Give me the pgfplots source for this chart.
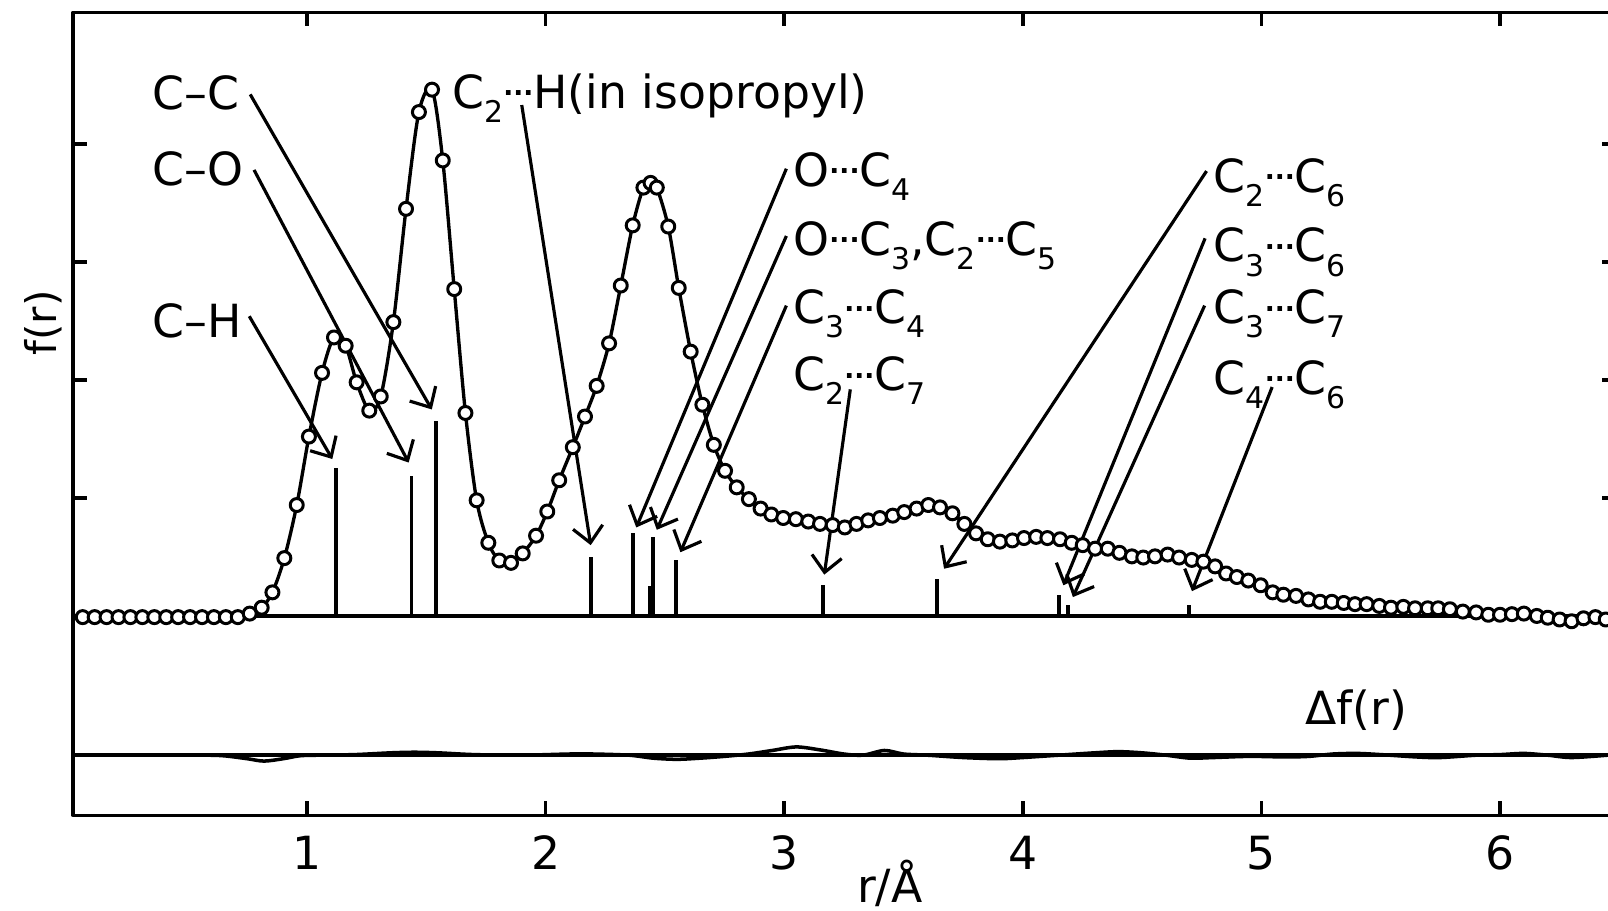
\documentclass[border=0pt]{standalone}
\usepackage{fontspec}
\setmainfont{DejaVu Sans}
\usepackage{pgfplots}
\usepackage{pgfplotstable}
\pgfplotsset{compat=1.18}
\usetikzlibrary{arrows.meta}

\newcommand\lbl{\fontsize{13}{15}\selectfont}
\newcommand\s[1]{\raisebox{-4pt}{\fontsize{8.5}{9}\selectfont #1}}
\newcommand\dt{\raisebox{3.6pt}{\fontsize{7.5}{7.5}\selectfont\bfseries...}}

% radial distribution function f(r)
\pgfplotstableread{
r     f
0.06  -0.01
0.11  -0.01
0.16  -0.01
0.21  -0.01
0.26  -0.01
0.31  -0.01
0.36  -0.01
0.41  -0.01
0.46  -0.01
0.51  -0.01
0.56  -0.01
0.61  -0.01
0.66  -0.01
0.71  -0.01
0.76  0.02
0.81  0.07
0.855 0.20
0.905 0.49
0.957 0.94
1.008 1.52
1.063 2.06
1.113 2.36
1.162 2.29
1.208 1.98
1.261 1.74
1.309 1.86
1.362 2.49
1.415 3.45
1.469 4.27
1.524 4.46
1.569 3.86
1.617 2.77
1.664 1.72
1.711 0.98
1.760 0.62
1.806 0.47
1.855 0.45
1.904 0.53
1.960 0.68
2.007 0.885
2.057 1.15
2.114 1.43
2.165 1.69
2.214 1.95
2.266 2.31
2.315 2.80
2.365 3.31
2.41  3.63
2.44  3.67
2.466 3.63
2.514 3.30
2.558 2.78
2.608 2.24
2.657 1.79
2.705 1.45
2.752 1.23
2.801 1.09
2.852 0.99
2.901 0.91
2.946 0.86
2.996 0.83
3.049 0.82
3.101 0.80
3.150 0.78
3.203 0.77
3.254 0.75
3.303 0.78
3.352 0.81
3.401 0.83
3.455 0.85
3.503 0.88
3.555 0.91
3.604 0.94
3.653 0.92
3.705 0.87
3.755 0.78
3.804 0.70
3.853 0.65
3.904 0.63
3.956 0.64
4.005 0.66
4.056 0.67
4.103 0.66
4.156 0.65
4.205 0.62
4.251 0.60
4.303 0.57
4.356 0.57
4.405 0.535
4.457 0.505
4.505 0.495
4.554 0.505
4.607 0.52
4.655 0.495
4.708 0.475
4.757 0.46
4.806 0.42
4.852 0.36
4.897 0.33
4.945 0.30
4.997 0.26
5.047 0.20
5.092 0.18
5.145 0.17
5.197 0.14
5.246 0.12
5.295 0.12
5.345 0.11
5.392 0.10
5.441 0.10
5.494 0.085
5.543 0.07
5.595 0.077
5.644 0.065
5.697 0.065
5.741 0.065
5.790 0.057
5.844 0.037
5.900 0.03
5.951 0.01
6.000 0.01
6.050 0.015
6.100 0.02
6.154 0.0
6.200 -0.015
6.250 -0.03
6.300 -0.045
6.350 -0.02
6.400 -0.01
6.443 -0.03
}\fr

% calculated interatomic distances
\pgfplotstableread{
r     h
1.12  1.25
1.438 1.19
1.54  1.65
2.192 0.50
2.368 0.70
2.437 0.25
2.451 0.67
2.546 0.47
3.161 0.26
3.642 0.31
4.153 0.18
4.188 0.09
4.695 0.09
}\sticks

% difference curve (offset below)
\pgfplotstableread{
r     d
0.02  0
0.55  0
0.65  -0.005
0.75  -0.03
0.82  -0.05
0.90  -0.03
0.97  -0.005
1.05  0
1.20  0.005
1.35  0.02
1.45  0.025
1.55  0.02
1.70  0.005
1.90  0
2.10  0.01
2.20  0.01
2.35  0
2.45  -0.025
2.55  -0.035
2.65  -0.025
2.75  -0.01
2.85  0.01
2.95  0.04
3.05  0.07
3.15  0.045
3.25  0.01
3.33  0.0
3.42  0.04
3.50  0.01
3.60  0
3.75  -0.02
3.90  -0.03
4.00  -0.02
4.15  0.0
4.30  0.02
4.40  0.03
4.50  0.02
4.60  0
4.70  -0.025
4.80  -0.02
4.95  -0.01
5.10  -0.015
5.20  -0.01
5.30  0.01
5.40  0.015
5.50  0.005
5.65  -0.015
5.75  -0.02
5.90  0
6.00  0.005
6.10  0.015
6.20  0
6.30  -0.02
6.45  0
}\dfr

\begin{document}
\begin{tikzpicture}[line cap=round, line join=round]
\begin{axis}[
  name=ax,
  x=23.86mm, y=11.8mm,
  xmin=0.02, xmax=6.486, ymin=-1.69, ymax=5.116,
  axis line style={line width=1pt},
  tick align=inside,
  major tick length=1.4mm,
  every tick/.style={black, line width=1pt},
  xtick={1,2,3,4,5,6}, xticklabels={1,2,3,4,5,6},
  ytick={1,2,3,4}, yticklabels={},
  xticklabel style={font=\lbl, anchor=base, inner sep=0pt, yshift=-5.46mm},
  clip=false,
]
% zero lines
\addplot[line width=1pt] coordinates {(0.02,0) (6.486,0)};
\addplot[line width=1pt] coordinates {(0.02,-1.18) (6.486,-1.18)};
% difference curve
\addplot[line width=1pt, smooth] table[x=r, y expr=\thisrow{d}-1.18] {\dfr};
% distance sticks
\addplot[ycomb, line width=1.1pt, no marks] table[x=r, y=h] {\sticks};
% f(r)
\addplot[line width=0.95pt, smooth, mark=*, mark size=1.85pt,
  mark options={fill=white, draw=black, line width=0.85pt}] table[x=r, y=f] {\fr};

% annotations
\begin{scope}[every node/.style={font=\lbl, inner sep=0pt, anchor=base west}]
\node at (axis cs:0.349,4.29) {C–C};
\node at (axis cs:0.349,3.65) {C–O};
\node at (axis cs:0.349,2.36) {C–H};
\node at (axis cs:1.607,4.30) {C\s{2}\dt H(in isopropyl)};
\node at (axis cs:3.036,3.64) {O\dt C\s{4}};
\node at (axis cs:3.036,3.055) {O\dt C\s{3},C\s{2}\dt C\s{5}};
\node at (axis cs:3.036,2.475) {C\s{3}\dt C\s{4}};
\node at (axis cs:3.036,1.907) {C\s{2}\dt C\s{7}};
\node at (axis cs:4.798,3.59) {C\s{2}\dt C\s{6}};
\node at (axis cs:4.798,3.00) {C\s{3}\dt C\s{6}};
\node at (axis cs:4.798,2.475) {C\s{3}\dt C\s{7}};
\node at (axis cs:4.798,1.877) {C\s{4}\dt C\s{6}};
\node at (axis cs:5.182,-0.92) {Δf(r)};
\end{scope}
\node[font=\fontsize{12}{14}\selectfont, rotate=90, inner sep=0pt] at (axis cs:-0.104,2.483) {f(r)};
\node[font=\lbl, inner sep=0pt, anchor=base] at (axis cs:3.443,-2.43) {r/Å};

\begin{scope}[line width=0.9pt, -{Straight Barb[length=1.6mm,width=3mm]}]
\draw (axis cs:0.758,2.54) -- (axis cs:1.106,1.33);
\draw (axis cs:0.778,3.78) -- (axis cs:1.426,1.30);
\draw (axis cs:0.762,4.42) -- (axis cs:1.523,1.75);
\draw (axis cs:1.900,4.33) -- (axis cs:2.189,0.60);
\draw (axis cs:3.009,3.79) -- (axis cs:2.380,0.75);
\draw (axis cs:3.009,3.22) -- (axis cs:2.466,0.73);
\draw (axis cs:3.009,2.63) -- (axis cs:2.565,0.54);
\draw (axis cs:3.277,1.92) -- (axis cs:3.168,0.35);
\draw (axis cs:4.770,3.77) -- (axis cs:3.670,0.40);
\draw (axis cs:4.764,3.20) -- (axis cs:4.170,0.26);
\draw (axis cs:4.762,2.63) -- (axis cs:4.210,0.16);
\draw (axis cs:5.045,1.94) -- (axis cs:4.709,0.21);
\end{scope}

\coordinate (bl) at (axis cs:-0.2867,-2.5);
\coordinate (tr) at (axis cs:6.4526,5.22);
\end{axis}
\pgfresetboundingbox
\useasboundingbox (bl) rectangle (tr);
\end{tikzpicture}
\end{document}
